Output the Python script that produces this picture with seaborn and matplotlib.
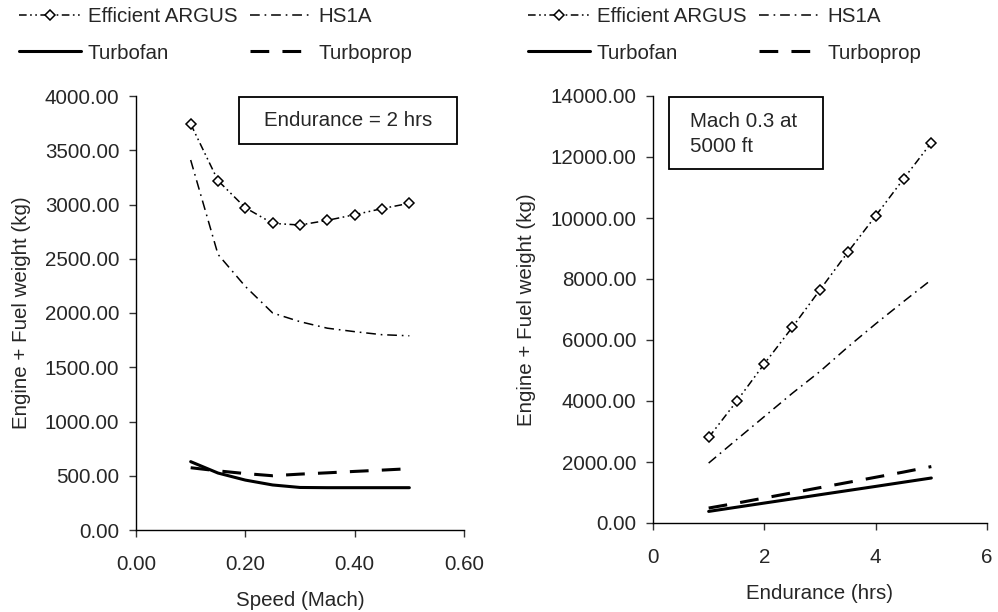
import matplotlib
matplotlib.use("Agg")
import matplotlib.pyplot as plt
from matplotlib.patches import Rectangle
from matplotlib.ticker import FormatStrFormatter, FixedLocator
import seaborn as sns
import pandas as pd

# ---- data -------------------------------------------------------------
speed_mach = [0.10, 0.15, 0.20, 0.25, 0.30, 0.35, 0.40, 0.45, 0.50]
speed_argus = [3742, 3220, 2970, 2826, 2811, 2854, 2906, 2962, 3011]
speed_hs1a = [3410, 2540, 2245, 2000, 1920, 1860, 1828, 1800, 1790]
speed_turbofan = [630, 525, 460, 415, 392, 390, 390, 390, 390]
speed_turboprop = [574, 545, 520, 500, 515, 527, 540, 552, 565]

endurance_hrs = [1.0, 1.5, 2.0, 2.5, 3.0, 3.5, 4.0, 4.5, 5.0]
endur_argus = [2805, 3985, 5220, 6410, 7645, 8880, 10070, 11280, 12470]
endur_hs1a = [1965, 2730, 3490, 4250, 4970, 5770, 6530, 7260, 7975]
endur_turbofan = [380, 517, 654, 790, 928, 1064, 1200, 1338, 1475]
endur_turboprop = [490, 650, 820, 990, 1160, 1330, 1500, 1670, 1850]

series_names = ["Efficient ARGUS", "HS1A", "Turbofan", "Turboprop"]

left_yticks = [0, 500, 1000, 1500, 2000, 2500, 3000, 3500, 4000]
left_xticks = [0.0, 0.2, 0.4, 0.6]
right_yticks = [0, 2000, 4000, 6000, 8000, 10000, 12000, 14000]
right_xticks = [0, 2, 4, 6]

# ---- styling -----------------------------------------------------------
sns.set_style("ticks")
plt.rcParams["font.family"] = ["Liberation Sans", "DejaVu Sans"]
plt.rcParams["lines.scale_dashes"] = False
FS = 14.8

styles = {
    "Efficient ARGUS": dict(lw=1.1, linestyle=(0, (5.5, 2.5, 1.2, 2.5, 1.2, 2.5)),
                            marker="D", markersize=5.5, markerfacecolor="white",
                            markeredgecolor="black", markeredgewidth=1.1),
    "HS1A": dict(lw=1.1, linestyle=(0, (7, 3.5, 1.2, 3.5))),
    "Turbofan": dict(lw=2.2, linestyle="-"),
    "Turboprop": dict(lw=2.2, linestyle=(0, (13.5, 9.5))),
}


def build_frame(x, cols):
    rows = []
    for name, vals in zip(series_names, cols):
        for xi, yi in zip(x, vals):
            rows.append({"x": xi, "y": yi, "series": name})
    return pd.DataFrame(rows)


def draw_panel(ax, df):
    for name in series_names:
        sub = df[df["series"] == name]
        sns.lineplot(data=sub, x="x", y="y", ax=ax, color="black",
                     label=name, legend=False, **styles[name])


def style_axes(ax, xticks, yticks, xlim, ylim, xfmt, xlabel):
    ax.set_xlim(*xlim)
    ax.set_ylim(*ylim)
    ax.xaxis.set_major_locator(FixedLocator(xticks))
    ax.yaxis.set_major_locator(FixedLocator(yticks))
    ax.xaxis.set_major_formatter(FormatStrFormatter(xfmt))
    ax.yaxis.set_major_formatter(FormatStrFormatter("%.2f"))
    for side in ("top", "right"):
        ax.spines[side].set_visible(False)
    for side in ("left", "bottom"):
        ax.spines[side].set_linewidth(1.0)
        ax.spines[side].set_color("black")
    ax.tick_params(axis="both", direction="out", length=5, width=1.0,
                   color="#333333", labelsize=FS)
    ax.tick_params(axis="y", pad=7)
    ax.tick_params(axis="x", pad=13)
    ax.set_xlabel(xlabel, fontsize=FS, labelpad=12)
    ax.set_ylabel("Engine + Fuel weight (kg)", fontsize=FS, labelpad=10)


fig = plt.figure(figsize=(9.98, 6.12), dpi=100)
ax1 = fig.add_axes([136 / 998, 1 - 530 / 612, (464 - 136) / 998, (530 - 96) / 612])
ax2 = fig.add_axes([653 / 998, 1 - 523 / 612, (987 - 653) / 998, (523 - 96) / 612])

df_speed = build_frame(speed_mach,
                       [speed_argus, speed_hs1a, speed_turbofan, speed_turboprop])
df_endur = build_frame(endurance_hrs,
                       [endur_argus, endur_hs1a, endur_turbofan, endur_turboprop])

draw_panel(ax1, df_speed)
draw_panel(ax2, df_endur)

style_axes(ax1, left_xticks, left_yticks, (0, 0.6), (0, 4000), "%.2f",
           "Speed (Mach)")
style_axes(ax2, right_xticks, right_yticks, (0, 6), (0, 14000), "%d",
           "Endurance (hrs)")

# legends above each panel, two columns
for ax, anchor_x in ((ax1, 15 / 998), (ax2, 524 / 998)):
    h, l = ax.get_legend_handles_labels()
    order = [0, 2, 1, 3]
    fig.legend([h[i] for i in order], [l[i] for i in order], ncol=2,
               loc="upper left", bbox_to_anchor=(anchor_x, 1 - 3 / 612),
               frameon=False, fontsize=FS, handlelength=3.0,
               handletextpad=0.35, columnspacing=0.6, labelspacing=0.85,
               borderaxespad=0.0, borderpad=0.2)

# annotation boxes
fig.patches.append(Rectangle((239 / 998, 1 - 144 / 612), 218 / 998, 47 / 612,
                             transform=fig.transFigure, fill=False,
                             edgecolor="black", lw=1.3))
fig.text(348 / 998, 1 - 121 / 612, "Endurance = 2 hrs", fontsize=FS,
         ha="center", va="center")

fig.patches.append(Rectangle((669 / 998, 1 - 169 / 612), 154 / 998, 72 / 612,
                             transform=fig.transFigure, fill=False,
                             edgecolor="black", lw=1.3))
fig.text(690 / 998, 1 - 134 / 612, "Mach 0.3 at\n5000 ft", fontsize=FS,
         ha="left", va="center", linespacing=1.42)

fig.savefig("out.png", dpi=100)
